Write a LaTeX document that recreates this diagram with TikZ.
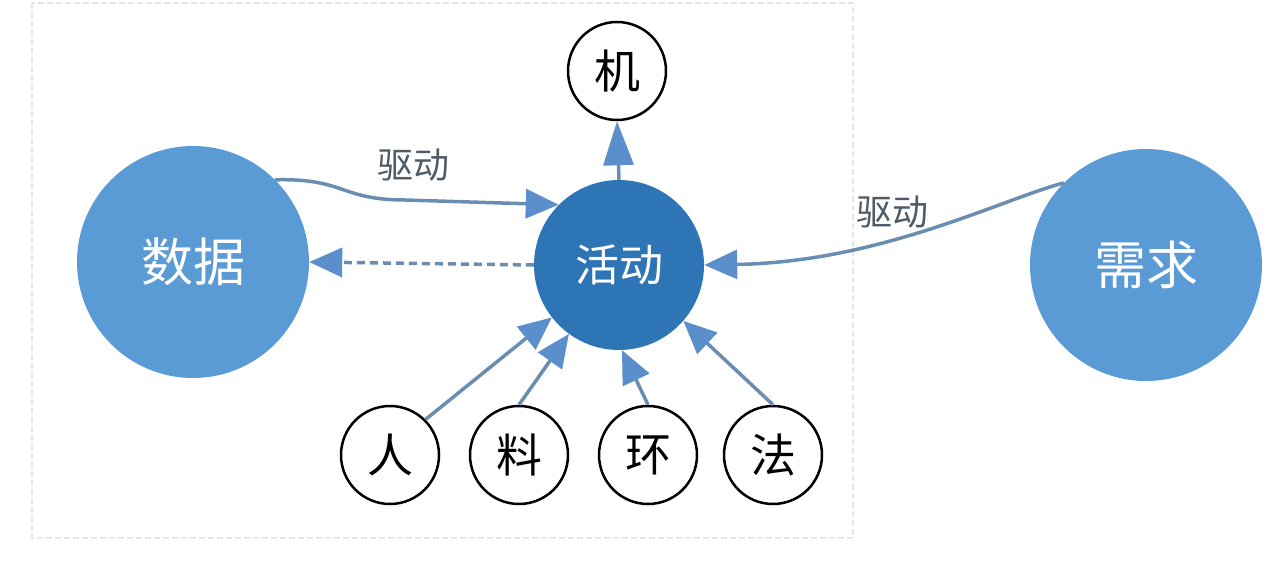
\documentclass[tikz,border=0pt]{standalone}
\usepackage{fontspec}
\newfontfamily\cjk{Noto Sans CJK SC}
\usetikzlibrary{arrows.meta}
\definecolor{bigblue}{HTML}{5B9BD5}
\definecolor{darkblue}{HTML}{2E75B6}
\definecolor{linec}{HTML}{6A8DB2}
\definecolor{headc}{HTML}{5B8FCB}
\definecolor{labelc}{HTML}{4F5B66}
\definecolor{framec}{HTML}{E6E6E6}
\begin{document}
\begin{tikzpicture}[x=1pt,y=-1pt,
  big/.style={circle, fill=bigblue, minimum size=232pt, inner sep=0pt, text=white,
    font=\cjk\fontsize{52}{52}\selectfont},
  mid/.style={circle, fill=darkblue, minimum size=170pt, inner sep=0pt, text=white,
    font=\cjk\fontsize{44}{44}\selectfont},
  small/.style={circle, draw=black, line width=2.5pt, fill=white, minimum size=98pt,
    inner sep=0pt, font=\cjk\fontsize{46}{46}\selectfont},
  conn/.style={draw=linec, line width=3.5pt, -{Triangle[length=33pt,width=29pt,color=headc]}},
  lbl/.style={font=\cjk\fontsize{36}{36}\selectfont, text=labelc}]
\useasboundingbox (0,0) rectangle (1280,567);
\draw[framec, line width=1.2pt, dash pattern=on 6pt off 3pt] (32,3) rectangle (853,538);

\node[big] (shuju) at (193,262) {数据};
\node[mid] (huodong) at (619,265) {活动};
\node[big] (xuqiu) at (1146,265) {需求};
\node[small] (ji) at (617,71) {机};
\node[small] (ren) at (390,455) {人};
\node[small] (liao) at (519,455) {料};
\node[small] (huan) at (648,455) {环};
\node[small] (fa) at (773,455) {法};

\coordinate (c1) at (405,200);
\draw[conn] (shuju.north east) .. controls (345,178) and (340,200) .. (c1) -- (huodong.north west);
\draw[conn] (xuqiu.north west) .. controls (1000,200) and (880,262) .. (huodong.east);
\draw[conn, dash pattern=on 8pt off 5pt] (huodong.west) -- (shuju.east);
\draw[conn, -{Triangle[length=44pt,width=30pt,color=headc]}] (huodong.north) -- (ji.south);
\draw[conn] (ren.north east) -- (huodong.218);
\draw[conn] (liao.north) -- (huodong.234);
\draw[conn] (huan.north) -- (huodong.272);
\draw[conn] (fa.north) -- (huodong.319);

\node[lbl] (l1) at (413,165) {驱动};
\node[lbl] (l2) at (892,212) {驱动};
\end{tikzpicture}
\end{document}
